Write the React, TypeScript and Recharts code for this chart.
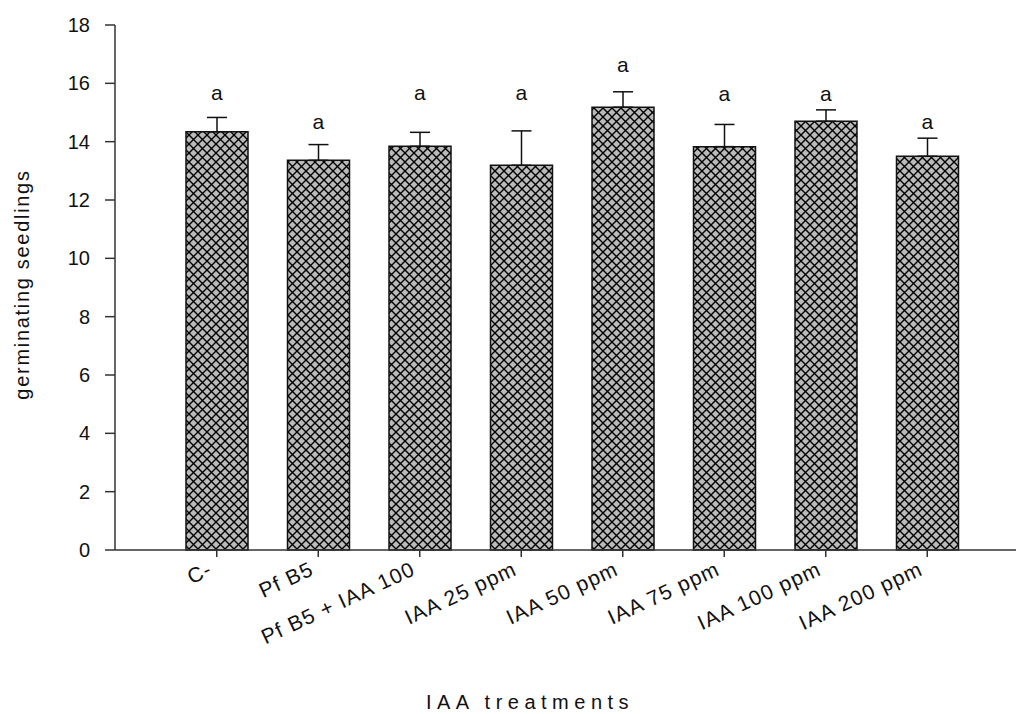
import React from "react";
import { ComposedChart, Bar, XAxis, YAxis, ErrorBar, Scatter } from "recharts";

const treatments = [
  "C-",
  "Pf B5",
  "Pf B5 + IAA 100",
  "IAA 25 ppm",
  "IAA 50 ppm",
  "IAA 75 ppm",
  "IAA 100 ppm",
  "IAA 200 ppm",
];
const seedlings = [14.34, 13.36, 13.84, 13.19, 15.18, 13.83, 14.7, 13.5];
const stdErr = [0.49, 0.54, 0.48, 1.18, 0.53, 0.76, 0.39, 0.62];
const letters = ["a", "a", "a", "a", "a", "a", "a", "a"];
const letterPos = [15.67, 14.69, 15.67, 15.67, 16.63, 15.66, 15.66, 14.69];
const yTicks = [0, 2, 4, 6, 8, 10, 12, 14, 16, 18];

const data = treatments.map((name, i) => ({
  name,
  value: seedlings[i],
  err: [0, stdErr[i]],
  letterY: letterPos[i],
  letter: letters[i],
}));

const FONT = "'Liberation Sans', Arial, sans-serif";
const AXIS = "#333";

function XTick(props: any) {
  const { x, payload } = props;
  return (
    <g transform={`translate(${x - 3},${574}) rotate(-25)`}>
      <text
        x={0}
        y={0}
        textAnchor="end"
        fill="#111"
        fontSize={21}
        fontFamily={FONT}
        style={{ letterSpacing: "1.2px" }}
      >
        {payload.value}
      </text>
    </g>
  );
}

function LetterMark(props: any) {
  const { cx, cy, payload } = props;
  return (
    <text
      x={cx}
      y={cy}
      textAnchor="middle"
      dominantBaseline="central"
      fill="#111"
      fontSize={21}
      fontFamily={FONT}
    >
      {payload.letter}
    </text>
  );
}

export default function App() {
  return (
    <div
      style={{
        position: "fixed",
        left: 0,
        top: 0,
        width: 1016,
        height: 714,
        overflow: "hidden",
        background: "#fff",
      }}
    >
      <ComposedChart
        width={1040}
        height={714}
        data={data}
        margin={{ top: 25, right: 11, bottom: 0, left: 0 }}
      >
        <defs>
          <pattern id="xhatch" patternUnits="userSpaceOnUse" width={9} height={9}>
            <rect width={9} height={9} fill="#bababa" />
            <path d="M0,0 L9,9 M9,0 L0,9" stroke="#000" strokeWidth={1.4} />
          </pattern>
        </defs>
        <XAxis
          dataKey="name"
          interval={0}
          height={164}
          padding={{ left: 51, right: 51 }}
          tickSize={7}
          tick={<XTick />}
          axisLine={{ stroke: AXIS, strokeWidth: 1.5 }}
          tickLine={{ stroke: AXIS, strokeWidth: 1.5 }}
          label={{
            content: (p: any) => {
              const vb = p.viewBox;
              return (
                <text
                  x={vb.x + vb.width / 2 - 42}
                  y={709}
                  textAnchor="middle"
                  fill="#111"
                  fontSize={20}
                  fontFamily={FONT}
                  style={{ letterSpacing: "5.5px" }}
                >
                  IAA treatments
                </text>
              );
            },
          }}
        />
        <YAxis
          type="number"
          domain={[0, 18]}
          ticks={yTicks}
          width={115}
          tickSize={10}
          tickMargin={15}
          tick={{ fill: "#111", fontSize: 20, fontFamily: FONT }}
          axisLine={{ stroke: AXIS, strokeWidth: 1.5 }}
          tickLine={{ stroke: AXIS, strokeWidth: 1.5 }}
          label={{
            content: (p: any) => {
              const vb = p.viewBox;
              const cy = vb.y + vb.height / 2 - 3;
              return (
                <text
                  x={29}
                  y={cy}
                  transform={`rotate(-90, 29, ${cy})`}
                  textAnchor="middle"
                  fill="#111"
                  fontSize={20}
                  fontFamily={FONT}
                  style={{ letterSpacing: "1.7px" }}
                >
                  germinating seedlings
                </text>
              );
            },
          }}
        />
        <Bar
          dataKey="value"
          barSize={62}
          fill="url(#xhatch)"
          stroke="#111"
          strokeWidth={1.5}
          isAnimationActive={false}
        >
          <ErrorBar dataKey="err" width={10} stroke="#111" strokeWidth={1.5} />
        </Bar>
        <Scatter
          dataKey="letterY"
          shape={<LetterMark />}
          isAnimationActive={false}
        />
      </ComposedChart>
    </div>
  );
}
